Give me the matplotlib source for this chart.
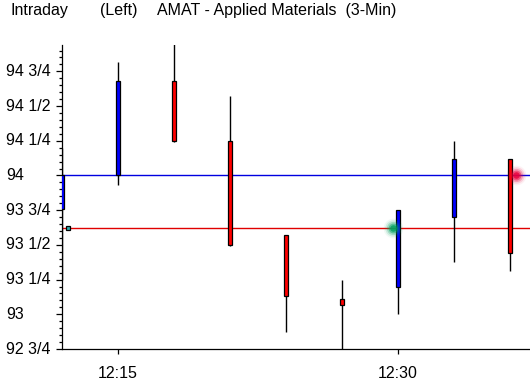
import matplotlib.pyplot as plt
import matplotlib.transforms as mtransforms
import numpy as np

# minutes after 12:00, one candle every 3 minutes
minutes = [12, 15, 18, 21, 24, 27, 30, 33, 36]
opens = [93.76, 94.0, 94.68, 94.25, 93.57, 93.11, 93.2, 93.7, 94.12]
highs = [94.2, 94.82, 94.96, 94.57, 93.57, 93.25, 93.75, 94.25, 94.12]
lows = [93.25, 93.93, 94.24, 93.49, 92.87, 92.7, 93.0, 93.38, 93.31]
closes = [94.0, 94.68, 94.25, 93.5, 93.13, 93.07, 93.75, 94.12, 93.44]

upper_line = 94.0
lower_line = 93.625
prev_mark = (12.32, 93.625)
green_dot = (29.72, 93.62)
red_dot = (36.3, 94.0)

ytick_vals = [94.75, 94.5, 94.25, 94.0, 93.75, 93.5, 93.25, 93.0, 92.75]
ytick_text = ["94 3/4", "94 1/2", "94 1/4", "94", "93 3/4", "93 1/2", "93 1/4", "93", "92 3/4"]
xtick_vals = [15, 30]
xtick_text = ["12:15", "12:30"]

plt.rcParams['font.family'] = ['Liberation Sans', 'DejaVu Sans']

fig = plt.figure(figsize=(5.3, 3.85), dpi=100)
ax = fig.add_axes([62 / 530, 36 / 385, 468 / 530, 304 / 385])
ax.set_xlim(12, 37.07)
ax.set_ylim(92.75, 94.94)

ax.axhline(upper_line, color='#0000e0', lw=1.0, zorder=1)
ax.axhline(lower_line, color='#e00000', lw=1.0, zorder=1)

width = 0.22
for m, o, h, l, c in zip(minutes, opens, highs, lows, closes):
    col = '#0000ff' if c >= o else '#ff0000'
    ax.vlines(m, l, h, color='black', lw=1.0, zorder=2)
    ax.bar(m, abs(c - o), bottom=min(o, c), width=width, color=col,
           edgecolor='black', linewidth=0.9, zorder=3)

ax.plot(*prev_mark, marker='s', ms=3.4, mfc='#30b0b0', mec='black', mew=0.9, zorder=4)

# soft glowing dots
for pos, col in [(green_dot, '#00a060'), (red_dot, '#e8003c')]:
    for s, a in zip([200, 140, 90, 50, 22], [0.06, 0.13, 0.24, 0.45, 0.8]):
        ax.scatter(*pos, s=s, color=col, alpha=a, lw=0, zorder=5)

for side in ['top', 'right']:
    ax.spines[side].set_visible(False)
ax.spines['left'].set_linewidth(0.9)
ax.spines['bottom'].set_linewidth(0.9)

ax.set_yticks(ytick_vals)
ax.set_yticklabels([])
ax.set_yticks(np.arange(92.75, 94.94, 0.05), minor=True)
ax.tick_params(axis='y', which='major', length=4.3, width=0.9, direction='out')
ax.tick_params(axis='y', which='minor', length=2.2, width=0.9, direction='out')
trans = mtransforms.blended_transform_factory(fig.transFigure, ax.transData)
for v, t in zip(ytick_vals, ytick_text):
    ax.text(6 / 530, v, t, transform=trans, ha='left', va='center', fontsize=11.5)

ax.set_xticks(xtick_vals)
ax.set_xticklabels(xtick_text, fontsize=11.5)
ax.tick_params(axis='x', length=3.6, width=0.9, direction='out', pad=9)

fig.text(11 / 530, 1 - 10 / 385, "Intraday", ha='left', va='center', fontsize=11.5)
fig.text(100 / 530, 1 - 10 / 385, "(Left)", ha='left', va='center', fontsize=11.5)
fig.text(157 / 530, 1 - 10 / 385, "AMAT - Applied Materials  (3-Min)", ha='left', va='center', fontsize=11.5)

fig.savefig('out.png', dpi=100)
